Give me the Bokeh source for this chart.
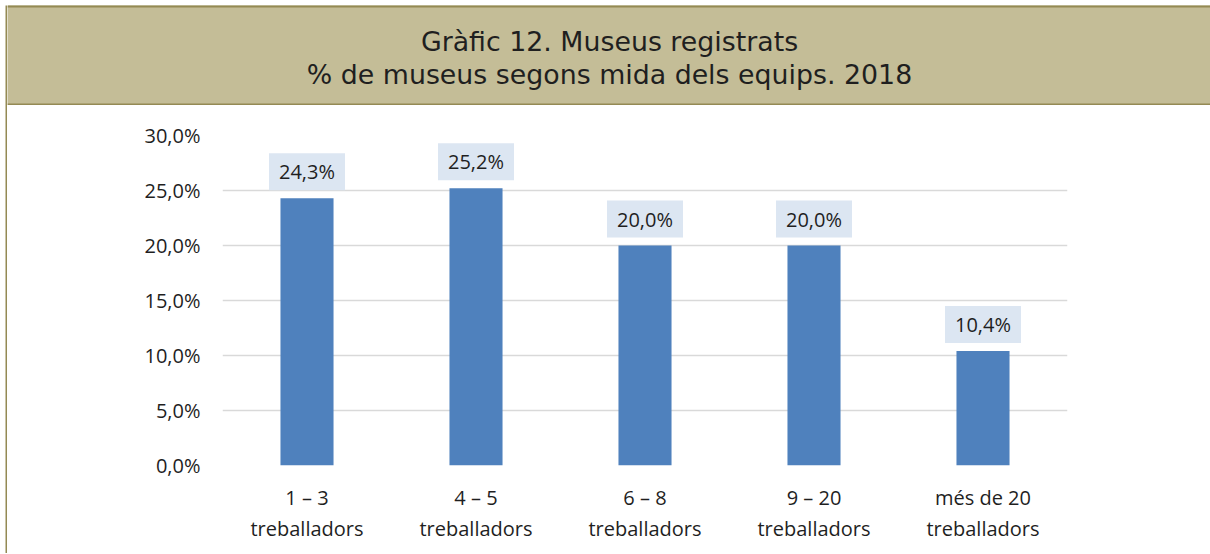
from bokeh.plotting import figure
from bokeh.layouts import row, column, Spacer
from bokeh.models import Range1d, FixedTicker, CustomJSTickFormatter, Label, ColumnDataSource, Span
from bokeh.core.properties import value
from bokeh.embed import file_html
from bokeh.resources import INLINE

# ---- data ----
categories = ["1 – 3\ntreballadors", "4 – 5\ntreballadors", "6 – 8\ntreballadors",
              "9 – 20\ntreballadors", "més de 20\ntreballadors"]
percent = [24.3, 25.2, 20.0, 20.0, 10.4]
y_ticks = [0, 5, 10, 15, 20, 25, 30]
title_lines = ["Gràfic 12. Museus registrats", "% de museus segons mida dels equips. 2018"]

TAN = "#c4bd97"
OLIVE = "#948a54"
BAR = "#4f81bd"
LABEL_BG = "#dce6f2"
GRID = "#d9d9d9"
TXT = "#1f1f1f"
FONT = "Open Sans"

TITLE_H = 100
CHART_H = 448
CHART_W = 1203

# left border strip
strip = figure(width=2, height=TITLE_H + CHART_H, min_border=0, toolbar_location=None,
               output_backend="svg", x_axis_type=None, y_axis_type=None)
strip.background_fill_color = OLIVE
strip.border_fill_color = OLIVE
strip.outline_line_color = None
strip.grid.visible = False
strip.frame_align = False

# title band
tp = figure(width=CHART_W, height=TITLE_H, min_border=0, toolbar_location=None,
            output_backend="svg", x_axis_type=None, y_axis_type=None,
            x_range=Range1d(0, 1), y_range=Range1d(0, 1))
tp.background_fill_color = TAN
tp.border_fill_color = TAN
tp.outline_line_color = None
tp.grid.visible = False
tp.frame_align = False
for loc in (0, 1):
    tp.add_layout(Span(location=loc, dimension="width", line_color=OLIVE, line_width=4))
for txt, yy in zip(title_lines, [64, 31]):
    tp.add_layout(Label(x=602, y=yy, x_units="screen", y_units="screen", text=txt,
                        text_align="center", text_baseline="alphabetic",
                        text_font="DejaVu Sans", text_font_size="26.8px",
                        text_color=TXT))

# chart
p = figure(x_range=categories, y_range=Range1d(0, 30), width=CHART_W, height=CHART_H,
           min_border_left=215, min_border_right=143, min_border_top=30, min_border_bottom=88,
           toolbar_location=None, output_backend="svg")
p.frame_align = False
p.outline_line_color = None
p.background_fill_color = "white"
p.border_fill_color = "white"

src = ColumnDataSource(dict(cat=categories, val=percent,
                            lab=[f"{v:.1f}".replace(".", ",") + "%" for v in percent]))
p.vbar(x="cat", top="val", width=0.314, source=src, fill_color=BAR, line_color=None)

p.text(x="cat", y="val", text="lab", source=src, text_align="center", text_baseline="bottom",
       y_offset=-8, text_font=value(FONT), text_font_size="20px", text_color=TXT,
       background_fill_color=LABEL_BG, padding=[10, 5])

p.xgrid.visible = False
p.ygrid.ticker = FixedTicker(ticks=y_ticks)
p.ygrid.grid_line_color = GRID
p.ygrid.grid_line_width = 1.5

p.yaxis.ticker = FixedTicker(ticks=y_ticks)
p.yaxis.formatter = CustomJSTickFormatter(code="return tick.toFixed(1).replace('.', ',') + '%';")
p.yaxis.axis_line_color = None
p.yaxis.major_tick_line_color = None
p.yaxis.minor_tick_line_color = None
p.yaxis.major_label_standoff = 16
p.yaxis.major_label_text_font = FONT
p.yaxis.major_label_text_font_size = "20px"
p.yaxis.major_label_text_color = TXT

p.xaxis.axis_line_color = None
p.xaxis.major_tick_line_color = None
p.xaxis.minor_tick_line_color = None
p.xaxis.major_label_standoff = 12
p.xaxis.major_label_text_font = FONT
p.xaxis.major_label_text_font_size = "20px"
p.xaxis.major_label_text_color = TXT
p.xaxis.major_label_text_line_height = 1.15

layout = column(Spacer(height=5),
                row(Spacer(width=5), strip, column(tp, p, spacing=0), spacing=0),
                spacing=0)
open("out.html", "w").write(file_html(layout, INLINE))
